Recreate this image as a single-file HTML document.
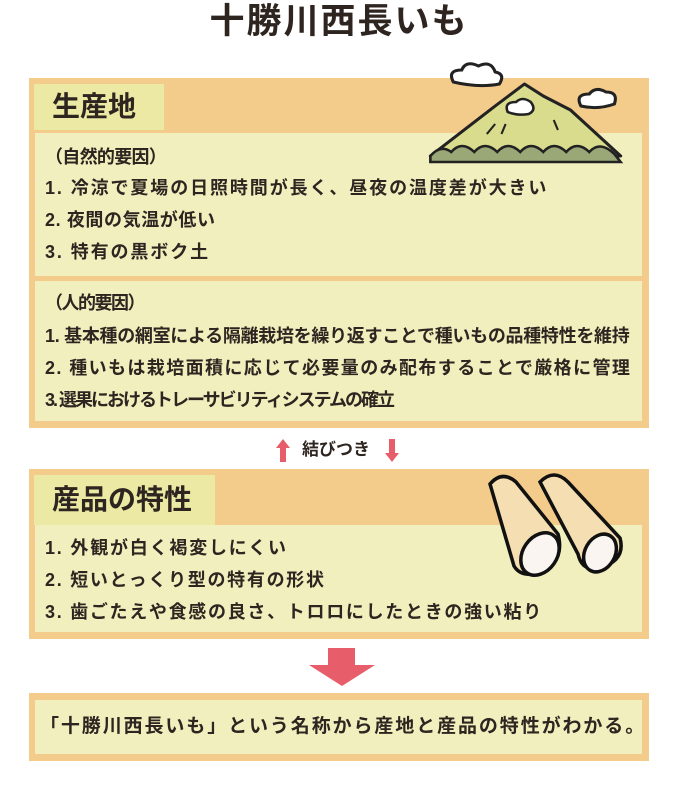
<!DOCTYPE html>
<html><head><meta charset="utf-8"><style>
body{margin:0;width:678px;height:790px;background:#fff;position:relative;font-family:"Liberation Sans","Noto Sans CJK JP",sans-serif;color:#2f2520;font-weight:bold;overflow:hidden}
.a{position:absolute}
.box{position:absolute;left:29px;width:620px;background:#f3cb8b}
.pan{position:absolute;left:6px;width:607px;background:#f2efbf}
.tab{position:absolute;left:5px;top:6px;background:#ebe9a3;font-size:28px;padding-left:18px;box-sizing:border-box}
.t{position:absolute;left:10px;font-size:18px;white-space:nowrap;line-height:22px}
</style></head><body>
<div class="a" style="left:0;width:678px;top:0;text-align:center;font-size:35px;line-height:44px;letter-spacing:2px">十勝川西長いも</div>

<div class="box" style="top:78px;height:350px">
 <div class="tab" style="width:130px;height:46px;line-height:46px">生産地</div>
 <div class="pan" style="top:55px;height:143px">
  <div class="t" style="top:13px;letter-spacing:-0.7px">（自然的要因）</div>
  <div class="t" style="top:44px;letter-spacing:1.9px">1. 冷涼で夏場の日照時間が長く、昼夜の温度差が大きい</div>
  <div class="t" style="top:76px;letter-spacing:0.6px">2. 夜間の気温が低い</div>
  <div class="t" style="top:108px;letter-spacing:1.9px">3. 特有の黒ボク土</div>
 </div>
 <div class="pan" style="top:203px;height:140px">
  <div class="t" style="top:11px;letter-spacing:-1.5px">（人的要因）</div>
  <div class="t" style="top:44px;letter-spacing:-0.3px">1. 基本種の網室による隔離栽培を繰り返すことで種いもの品種特性を維持</div>
  <div class="t" style="top:76px;letter-spacing:1.4px">2. 種いもは栽培面積に応じて必要量のみ配布することで厳格に管理</div>
  <div class="t" style="top:108px;letter-spacing:-2px">3. 選果におけるトレーサビリティシステムの確立</div>
 </div>
</div>
<svg class="a" style="left:422px;top:62px" width="230" height="104" viewBox="0 0 220 104" preserveAspectRatio="none">
 <path d="M8 94 L70 44 L98 22 L116 34 L142 48 L190 94 Z" fill="#d8dc8c" stroke="#222" stroke-width="3" stroke-linejoin="round"/>
 <path d="M8 94 q10-12 20-4 q10-12 22 0 q10-12 22 0 q10-12 22 0 q10-12 22 0 q10-12 22 0 q10-12 22 0 q10-12 24 2 L190 100 L8 100Z" fill="#9aa776" stroke="#222" stroke-width="2.5"/>
 <path d="M30 20 q-6-12 8-12 q4-10 16-4 q12-6 16 6 q10 2 4 12 q-20 4-44-2Z" fill="#fff" stroke="#222" stroke-width="3"/>
 <path d="M152 44 q-6-12 8-12 q6-8 16-2 q12 0 8 12 q-16 6-32 2Z" fill="#fff" stroke="#222" stroke-width="3"/>
 <path d="M82 50 q-4-10 8-10 q6-6 14 0 q6 8-2 12 q-10 2-20-2Z" fill="#fff" stroke="#222" stroke-width="2.5"/>
 <path d="M62 72 l8-10 M80 62 l-4 10 M126 58 l4 10" stroke="#222" stroke-width="2"/>
</svg>

<svg class="a" style="left:272px;top:436px" width="130" height="28">
 <path d="M4 12 L11 3 L18 12 L14 12 L14 26 L8 26 L8 12Z" fill="#e85d6a"/>
 <path d="M117 3 L123 3 L123 17 L127 17 L120 26 L113 17 L117 17Z" fill="#e85d6a"/>
</svg>
<div class="a" style="left:302px;top:439px;font-size:17px;line-height:22px">結びつき</div>

<div class="box" style="top:469px;height:170px">
 <div class="tab" style="width:181px;height:50px;line-height:50px">産品の特性</div>
 <div class="pan" style="top:56px;height:107px">
  <div class="t" style="top:12px;letter-spacing:1.8px">1. 外観が白く褐変しにくい</div>
  <div class="t" style="top:44px;letter-spacing:1.7px">2. 短いとっくり型の特有の形状</div>
  <div class="t" style="top:76px;letter-spacing:1.7px">3. 歯ごたえや食感の良さ、トロロにしたときの強い粘り</div>
 </div>
</div>
<svg class="a" style="left:480px;top:470px" width="150" height="120">
 <path d="M60 12 q14-14 28 0 L140 68 q6 22-20 30 q-18 4-22-14Z" fill="#f5dfb2" stroke="#111" stroke-width="3.5"/>
 <ellipse cx="120" cy="83" rx="15" ry="20" transform="rotate(30 120 83)" fill="#fbf5f2" stroke="#111" stroke-width="3.5"/>
 <path d="M10 14 q12-14 26-2 L78 64 q8 30-24 40 q-14 2-20-8Z" fill="#f5dfb2" stroke="#111" stroke-width="3.5"/>
 <ellipse cx="60" cy="84" rx="17" ry="23" transform="rotate(35 60 84)" fill="#fbf5f2" stroke="#111" stroke-width="3.5"/>
</svg>

<svg class="a" style="left:308px;top:648px" width="68" height="38">
 <path d="M20 0 L47 0 L47 17 L67 17 L34 38 L1 17 L20 17Z" fill="#e85d6a"/>
</svg>

<div class="box" style="top:693px;height:68px">
 <div class="pan" style="top:7px;height:54px">
  <div class="t" style="left:5px;top:15px;font-size:19px;line-height:24px;letter-spacing:1.9px">「十勝川西長いも」という名称から産地と産品の特性がわかる。</div>
 </div>
</div>
</body></html>
